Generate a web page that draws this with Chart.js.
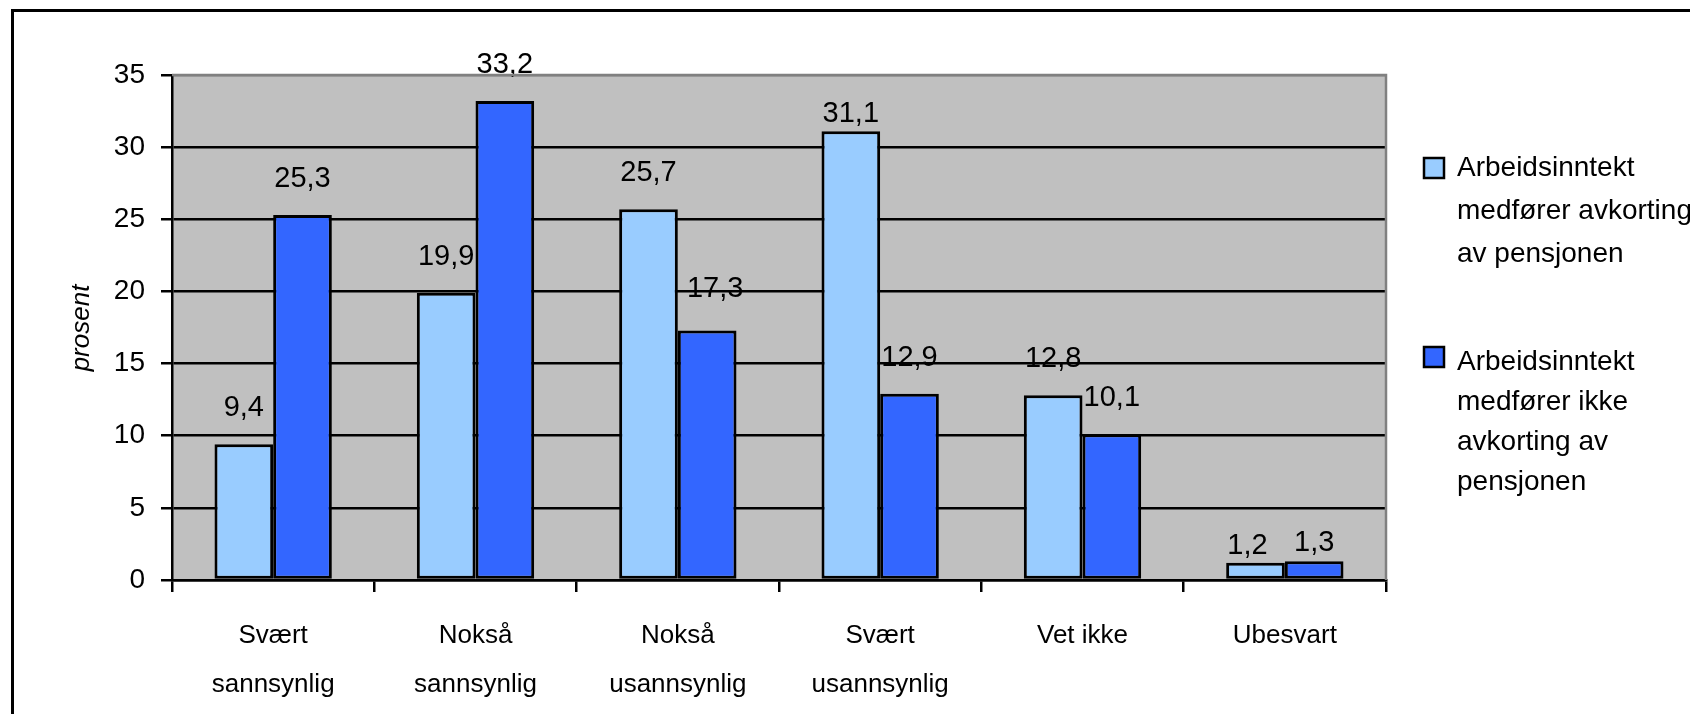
<!DOCTYPE html>
<html>
<head>
<meta charset="utf-8">
<script src="https://cdn.jsdelivr.net/npm/chart.js@4.4.0/dist/chart.umd.min.js"></script>
<style>
  html, body { margin: 0; padding: 0; background: #ffffff; }
  #wrap { width: 1690px; height: 714px; position: relative; }
</style>
</head>
<body>
<div id="wrap"><canvas id="c" width="1690" height="714"></canvas></div>
<script>
// ---- data ----
const categories = [
  ["Svært", "sannsynlig"],
  ["Nokså", "sannsynlig"],
  ["Nokså", "usannsynlig"],
  ["Svært", "usannsynlig"],
  "Vet ikke",
  "Ubesvart"
];
const seriesNames = [
  ["Arbeidsinntekt", "medfører avkorting", "av pensjonen"],
  ["Arbeidsinntekt", "medfører ikke", "avkorting av", "pensjonen"]
];
const avkorting = [9.4, 19.9, 25.7, 31.1, 12.8, 1.2];
const ikkeAvkorting = [25.3, 33.2, 17.3, 12.9, 10.1, 1.3];
const yTicks = { min: 0, max: 35, step: 5 };
const yTitle = "prosent";

// ---- styling ----
const FONT = "'Liberation Sans', Arial, Helvetica, sans-serif";
const colors = ["#99CCFF", "#3366FF"];
// small pixel nudges for the value labels that sit off the default spot
const labelNudge = [
  [[0,0],[0,0],[0,0],[0,19],[0,0],[-8,19]],
  [[0,0],[0,0],[8,-5],[0,0],[0,0],[0,18]]
];
const legendLayout = [
  { box: [1424, 158], firstBaseline: 176, step: 43 },
  { box: [1424, 347], firstBaseline: 370, step: 40 }
];

const decorPlugin = {
  id: 'decor',
  beforeDraw(chart) {
    const { ctx, chartArea: a } = chart;
    ctx.save();
    ctx.fillStyle = '#ffffff';
    ctx.fillRect(0, 0, chart.width, chart.height);
    // outer frame
    ctx.strokeStyle = '#000';
    ctx.lineWidth = 3;
    ctx.beginPath();
    ctx.moveTo(12.5, chart.height + 5);
    ctx.lineTo(12.5, 10.5);
    ctx.lineTo(chart.width + 5, 10.5);
    ctx.stroke();
    // plot background
    ctx.fillStyle = '#C0C0C0';
    ctx.fillRect(a.left, a.top, a.right - a.left, a.bottom - a.top);
    ctx.restore();
  },
  afterDraw(chart) {
    const { ctx, chartArea: a } = chart;
    ctx.save();
    // plot border top/right gray
    ctx.strokeStyle = '#808080';
    ctx.lineWidth = 2.5;
    ctx.beginPath();
    ctx.moveTo(a.left, a.top);
    ctx.lineTo(a.right, a.top);
    ctx.lineTo(a.right, a.bottom);
    ctx.stroke();
    // y title
    ctx.fillStyle = '#000';
    ctx.font = "italic 26px " + FONT;
    ctx.textAlign = 'center';
    ctx.textBaseline = 'middle';
    ctx.translate(82, 328);
    ctx.rotate(-Math.PI / 2);
    ctx.fillText(yTitle, 0, 0);
    ctx.restore();

    // legend
    ctx.save();
    ctx.font = "28px " + FONT;
    ctx.textAlign = 'left';
    ctx.textBaseline = 'alphabetic';
    seriesNames.forEach((lines, i) => {
      const L = legendLayout[i];
      ctx.fillStyle = colors[i];
      ctx.fillRect(L.box[0], L.box[1], 20, 20);
      ctx.strokeStyle = '#000';
      ctx.lineWidth = 2.5;
      ctx.strokeRect(L.box[0], L.box[1], 20, 20);
      ctx.fillStyle = '#000';
      lines.forEach((t, j) => ctx.fillText(t, 1457, L.firstBaseline + j * L.step));
    });
    ctx.restore();
  },
  afterDatasetsDraw(chart) {
    const { ctx } = chart;
    ctx.save();
    ctx.font = "29px " + FONT;
    ctx.fillStyle = '#000';
    ctx.textAlign = 'center';
    ctx.textBaseline = 'middle';
    chart.data.datasets.forEach((ds, di) => {
      const meta = chart.getDatasetMeta(di);
      meta.data.forEach((bar, i) => {
        const v = ds.data[i];
        const n = labelNudge[di][i];
        ctx.fillText(v.toFixed(1).replace('.', ','), bar.x + n[0], bar.y - 36 + n[1]);
      });
    });
    ctx.restore();
  }
};

new Chart(document.getElementById('c'), {
  type: 'bar',
  data: {
    labels: categories,
    datasets: [
      { label: seriesNames[0].join(' '), data: avkorting, backgroundColor: colors[0], borderColor: '#000', borderWidth: 3, borderSkipped: false },
      { label: seriesNames[1].join(' '), data: ikkeAvkorting, backgroundColor: colors[1], borderColor: '#000', borderWidth: 3, borderSkipped: false }
    ]
  },
  options: {
    responsive: false,
    animation: false,
    devicePixelRatio: 1,
    layout: { padding: { left: 0, top: 75, right: 304, bottom: 0 } },
    datasets: { bar: { categoryPercentage: 0.58, barPercentage: 1.0 } },
    plugins: { legend: { display: false }, tooltip: { enabled: false }, title: { display: false } },
    scales: {
      x: {
        type: 'category',
        offset: true,
        afterFit(axis) { axis.height = 134; },
        grid: { offset: true, drawOnChartArea: false, drawTicks: true, tickLength: 12, color: '#000', lineWidth: 2.5 },
        border: { display: true, color: '#000', width: 2.5 },
        ticks: {
          color: '#000',
          font: { family: FONT, size: 26, lineHeight: 1.86 },
          padding: 20,
          maxRotation: 0,
          autoSkip: false
        }
      },
      y: {
        min: yTicks.min,
        max: yTicks.max,
        afterFit(axis) { axis.width = 172; },
        grid: {
          drawTicks: true,
          tickLength: 11,
          color: (c) => (c.tick && c.tick.value === yTicks.max) ? '#808080' : '#000',
          tickColor: '#000',
          lineWidth: 2.5
        },
        border: { display: true, color: '#000', width: 2.5 },
        ticks: {
          stepSize: yTicks.step,
          color: '#000',
          font: { family: FONT, size: 28 },
          padding: 16,
          callback: (v) => String(v)
        }
      }
    }
  },
  plugins: [decorPlugin]
});
</script>
</body>
</html>
